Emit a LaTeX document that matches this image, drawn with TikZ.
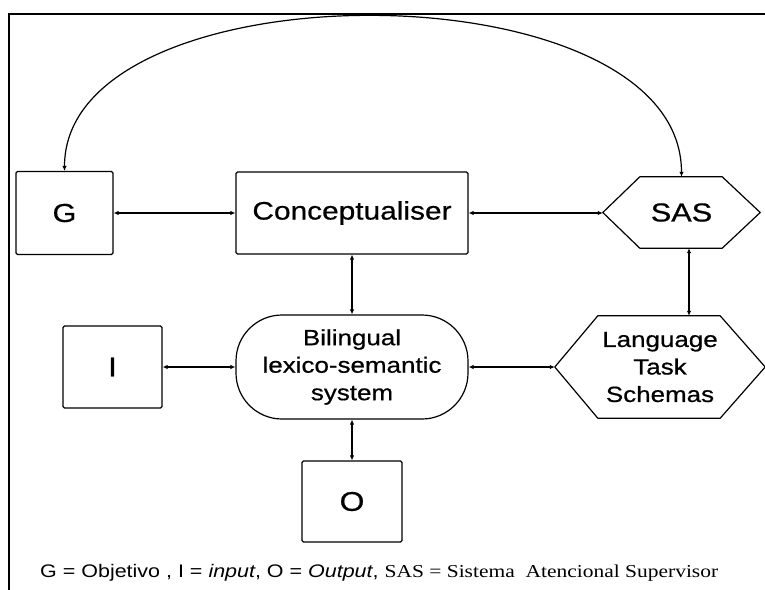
\documentclass[tikz,border=0pt]{standalone}
\usepackage{fontspec}
\setmainfont{Liberation Sans}[FakeStretch=1.18]
\newfontfamily\nodesans{Liberation Sans}[FakeStretch=1.18,FakeBold=0.6]
\newfontfamily\capserif{Liberation Serif}[FakeStretch=1.18]
\usetikzlibrary{arrows.meta}
\tikzset{
  box/.style={draw, line width=1.2pt, rounded corners=1.5pt, inner sep=0pt, align=center},
  hexnode/.style={inner sep=0pt, align=center},
  hexline/.style={draw, line width=1.2pt, line join=round},
  conn/.style={line width=1.2pt, {Latex[length=5pt,width=4.5pt]}-{Latex[length=5pt,width=4.5pt]}},
  frameline/.style={line width=2.3pt},
  bigfont/.style={font=\nodesans\fontsize{26}{28}\selectfont},
  midfont/.style={font=\nodesans\fontsize{22}{27.5}\selectfont},
}
\begin{document}
\begin{tikzpicture}[x=1pt,y=-1pt]
\useasboundingbox[fill=white] (0,0) rectangle (765,589);
% frame
\draw[frameline] (9,600) -- (9,14) -- (780,14);
% nodes
\node[box, bigfont, minimum width=97pt, minimum height=83pt] (g) at (64.5,213) {G};
\node[box, font=\nodesans\fontsize{25.3}{28}\selectfont, minimum width=232pt, minimum height=82pt] (con) at (352,213) {Conceptualiser};
\node[hexnode, bigfont, minimum width=157pt, minimum height=71pt] (sas) at (681.5,212.5) {SAS};
\node[box, midfont, rounded corners=46pt, minimum width=232pt, minimum height=104pt] (bls) at (352,367) {Bilingual\\lexico-semantic\\system};
\node[box, font=\nodesans\fontsize{27}{29}\selectfont, minimum width=99pt, minimum height=82pt] (i) at (112.5,367) {I};
\node[box, font=\nodesans\fontsize{27}{29}\selectfont, minimum width=100pt, minimum height=81pt] (o) at (352,501.5) {O};
\node[hexnode, midfont, minimum width=210pt, minimum height=102pt] (lts) at (660,367) {Language\\Task\\Schemas};
% hexagon outlines
\draw[hexline] (sas.west) -- ([xshift=37pt]sas.north west) -- ([xshift=-38pt]sas.north east) -- (sas.east)
  -- ([xshift=-38pt]sas.south east) -- ([xshift=37pt]sas.south west) -- cycle;
\draw[hexline] (lts.west) -- ([xshift=43pt]lts.north west) -- ([xshift=-45pt]lts.north east) -- (lts.east)
  -- ([xshift=-45pt]lts.south east) -- ([xshift=43pt]lts.south west) -- cycle;
% connectors
\draw[conn] (g.east) -- (con.west);
\draw[conn] (con.east) -- (sas.west |- con.east);
\draw[conn] (con.south) -- (bls.north);
\draw[conn] ([xshift=7.5pt]sas.south) -- ([xshift=7.5pt]sas.south |- lts.north);
\draw[conn] (i.east) -- (bls.west);
\draw[conn] (bls.east) -- (lts.west);
\draw[conn] (bls.south) -- (o.north);
\draw[conn] (sas.north) .. controls (681.5,-36) and (64.5,-36) .. (g.north);
% caption
\node[anchor=base west, inner sep=0pt, font=\fontsize{18.2}{20}\selectfont] (cap) at (40,577)
  {G = Objetivo\ , I = \textit{input}, O = \textit{Output}, {\capserif SAS = Sistema\ \ Atencional Supervisor}};
\end{tikzpicture}
\end{document}
